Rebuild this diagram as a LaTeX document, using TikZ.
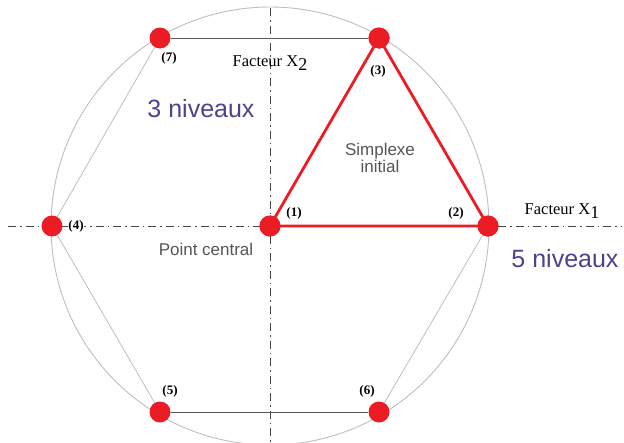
\documentclass[tikz,border=0pt]{standalone}
\usepackage{fontspec}
\setmainfont{Liberation Serif}
\setsansfont{Liberation Sans}
\begin{document}
\begin{tikzpicture}[x=1pt,y=-1pt,
  pt/.style={circle,fill=ptred,draw=none,minimum size=21pt,inner sep=0pt},
  axis/.style={draw=axisgray,line width=0.9pt,dash pattern=on 8pt off 4pt on 1.5pt off 4pt},
  simplex/.style={draw=ptred,line width=2.8pt},
  hexlight/.style={draw=lightgray2,line width=0.8pt},
  hexdark/.style={draw=darkgray2,line width=1pt},
  num/.style={font=\fontsize{13}{14}\selectfont\bfseries,inner sep=1pt},
  fact/.style={font=\fontsize{16.5}{18}\selectfont,inner sep=1pt},
  lev/.style={font=\sffamily\fontsize{25}{28}\selectfont,text=levblue,inner sep=1pt},
  gtext/.style={font=\sffamily\fontsize{17}{20}\selectfont,text=textgray,inner sep=1pt,align=center}]
\definecolor{ptred}{RGB}{236,28,36}
\definecolor{axisgray}{RGB}{70,70,70}
\definecolor{lightgray2}{RGB}{190,190,190}
\definecolor{darkgray2}{RGB}{90,90,90}
\definecolor{levblue}{RGB}{78,66,140}
\definecolor{textgray}{RGB}{85,85,85}
\useasboundingbox (0,0) rectangle (624,442);
\begin{scope}
\clip (0,0) rectangle (624,442);
% circle
\draw[lightgray2,line width=0.9pt] (270,226) circle[radius=219];
% axes
\coordinate (hl) at (8,226);
\coordinate (hr) at (622,226);
\coordinate (vt) at (270,8);
\coordinate (vb) at (270,442);
\draw[axis] (hl) -- (hr);
\draw[axis] (vt) -- (vb);
% points
\node[pt] (p1) at (270,226) {};
\node[pt] (p2) at (488,226) {};
\node[pt] (p3) at (379,38) {};
\node[pt] (p4) at (52,226) {};
\node[pt] (p5) at (160,412) {};
\node[pt] (p6) at (379,412) {};
\node[pt] (p7) at (160,38) {};
\end{scope}
% hexagon sides
\draw[hexdark] (p7) -- (p3);
\draw[hexdark] (p5) -- (p6);
\draw[hexlight] (p7) -- (p4);
\draw[hexlight] (p4) -- (p5);
\draw[hexlight] (p6) -- (p2);
% simplex
\draw[simplex] (p1.center) -- (p2.center) -- (p3.center) -- cycle;
\node[pt] at (p1) {};
\node[pt] at (p2) {};
\node[pt] at (p3) {};
% labels
\node[num] (l1) at (294,213) {(1)};
\node[num] (l2) at (456,213) {(2)};
\node[num] (l3) at (378,71) {(3)};
\node[num,fill=white,inner sep=0.5pt] (l4) at (76,226) {(4)};
\node[num] (l5) at (170,391) {(5)};
\node[num] (l6) at (367,391) {(6)};
\node[num] (l7) at (169,58) {(7)};
\node[fact] (fx2) at (270,63) {Facteur X\raisebox{-3.5pt}{\fontsize{18}{18}\selectfont 2}};
\node[fact] (fx1) at (562,211) {Facteur X\raisebox{-3.5pt}{\fontsize{18}{18}\selectfont 1}};
\node[lev] (n3) at (201,109) {3 niveaux};
\node[lev] (n5) at (565,259) {5 niveaux};
\node[gtext] (si) at (380,158) {Simplexe\\[-3pt]initial};
\node[gtext] (pc) at (206,249) {Point central};
\end{tikzpicture}
\end{document}
